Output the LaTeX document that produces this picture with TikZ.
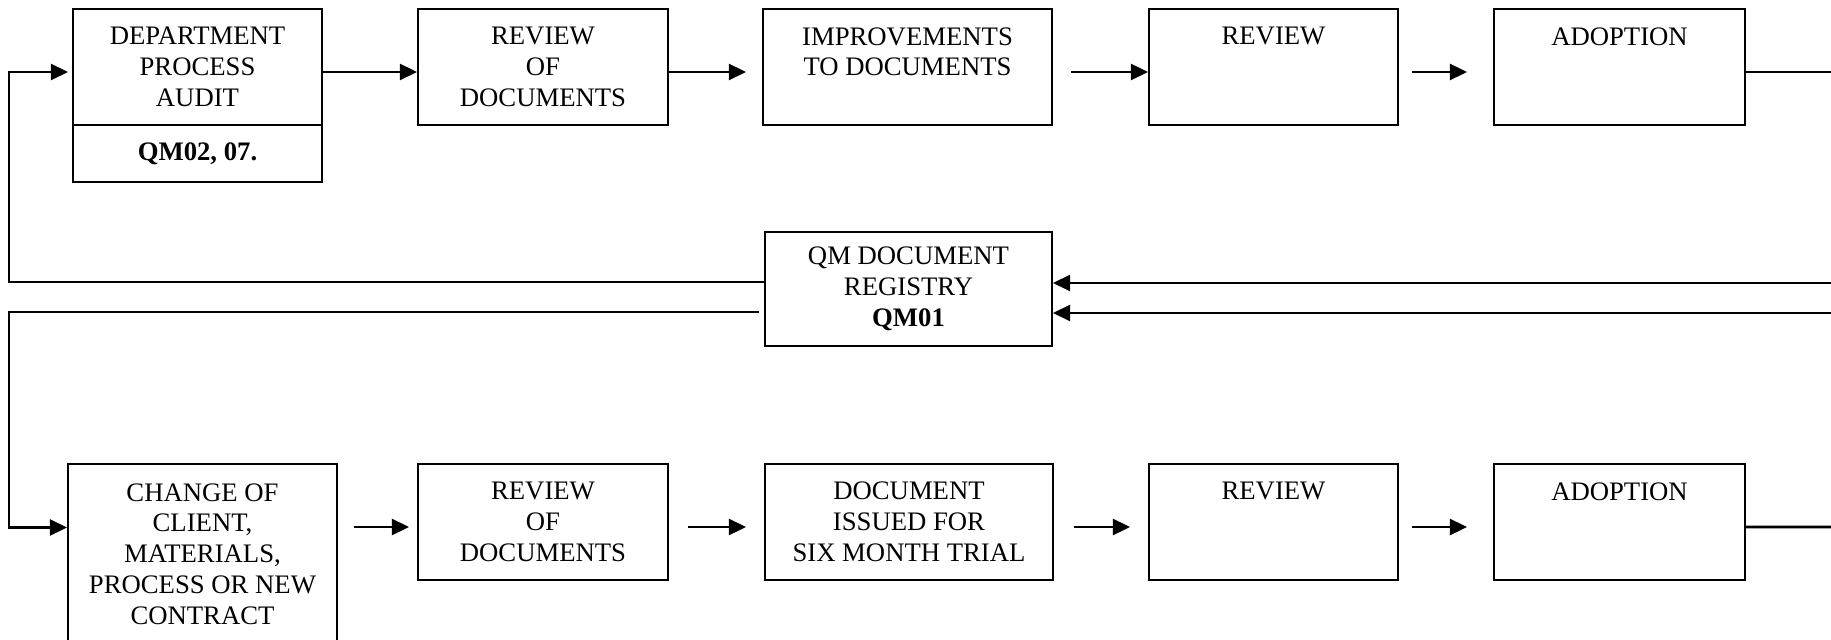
\documentclass[tikz,border=0pt]{standalone}
\usepackage{fontspec}
\setmainfont{Liberation Serif}
\usetikzlibrary{arrows.meta}

\begin{document}
\begin{tikzpicture}[
    box/.style={draw, line width=1.2pt, align=center, inner sep=0pt,
        minimum height=2.32cm, font=\fontsize{15.2}{17.5}\selectfont},
    link/.style={line width=1.5pt},
    arr/.style={link, -{Triangle[length=0.34cm, width=0.32cm]}}
]
    % Page
    \useasboundingbox (0,0) rectangle (36.62,12.78);

    % Upper row
    \node[box, minimum width=4.98cm] (audit) at (3.95,11.44) {DEPARTMENT\\PROCESS\\AUDIT};
    \node[box, minimum width=4.98cm, minimum height=1.14cm,
        font=\fontsize{15.2}{17.5}\selectfont\bfseries] (auditref) at (3.95,9.71) {QM02, 07.};
    \node[box, minimum width=5.0cm] (rev1) at (10.86,11.44) {REVIEW\\OF\\DOCUMENTS};
    \node[box, minimum width=5.78cm] (impr) at (18.15,11.44) {IMPROVEMENTS\\TO DOCUMENTS\\~};
    \node[box, minimum width=4.98cm] (rev2) at (25.47,11.44) {REVIEW\\~\\~};
    \node[box, minimum width=5.02cm] (adopt1) at (32.39,11.44) {ADOPTION\\~\\~};

    % Registry
    \node[box, minimum width=5.74cm, minimum height=2.28cm] (qm) at (18.17,7.0)
        {QM DOCUMENT\\REGISTRY\\\textbf{QM01}};

    % Lower row
    \node[box, minimum width=5.38cm, minimum height=3.6cm] (change) at (4.05,1.7)
        {CHANGE OF\\CLIENT,\\MATERIALS,\\PROCESS OR NEW\\CONTRACT};
    \node[box, minimum width=5.0cm] (rev3) at (10.86,2.34) {REVIEW\\OF\\DOCUMENTS};
    \node[box, minimum width=5.76cm] (trial) at (18.18,2.34) {DOCUMENT\\ISSUED FOR\\SIX MONTH TRIAL};
    \node[box, minimum width=4.98cm] (rev4) at (25.47,2.34) {REVIEW\\~\\~};
    \node[box, minimum width=5.02cm] (adopt2) at (32.39,2.34) {ADOPTION\\~\\~};

    % Edge of page
    \coordinate (out1) at (36.62,11.34);
    \coordinate (out2) at (36.62,2.24);
    \coordinate (in1) at (36.62,7.12);
    \coordinate (in2) at (36.62,6.52);

    % Arrows along the rows
    \foreach \a/\b/\s/\e in {audit/rev1/0/0, rev1/impr/0/0.32, impr/rev2/0.36/0,
        rev2/adopt1/0.26/0.52, change/rev3/0.32/0.16, rev3/trial/0.38/0.36,
        trial/rev4/0.4/0.36, rev4/adopt2/0.26/0.52}
    {
        \draw[arr, shorten <=\s cm, shorten >=\e cm]
            ([yshift=-0.1cm]\b.west -| \a.east) -- ([yshift=-0.1cm]\b.west);
    }

    % Lines out to the right
    \draw[link] ([yshift=-0.1cm]adopt1.east) -- (out1);
    \draw[link] ([yshift=-0.1cm]adopt2.east) -- (out2);

    % Returns into the registry
    \draw[arr] (in1) -- (in1 -| qm.east);
    \draw[arr] (in2) -- (in2 -| qm.east);

    % Registry back to the rows
    \draw[arr, shorten >=0.08cm] ([yshift=0.14cm]qm.west)
        -| ([xshift=-1.26cm, yshift=-0.1cm]audit.west) -- ([yshift=-0.1cm]audit.west);
    \draw[arr] ([xshift=-0.1cm, yshift=-0.46cm]qm.west)
        -| ([xshift=-1.16cm, yshift=0.53cm]change.west) -- ([yshift=0.53cm]change.west);
\end{tikzpicture}
\end{document}
